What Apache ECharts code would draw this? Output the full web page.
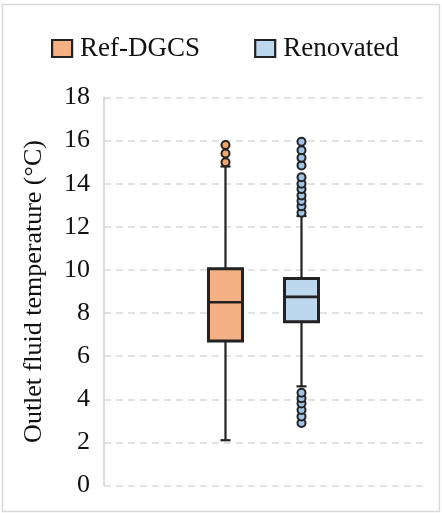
<!DOCTYPE html>
<html>
<head>
<meta charset="utf-8">
<script src="https://cdn.jsdelivr.net/npm/echarts@6/dist/echarts.min.js"></script>
<style>
  html, body { margin: 0; padding: 0; background: #fff; }
  #main { width: 442px; height: 513px; }
</style>
</head>
<body>
<div id="main"></div>
<script>
// categories and box stats [min, Q1, median, Q3, max]
const categories = ['Ref-DGCS', 'Renovated']
const refBox = [2.1, 6.7, 8.5, 10.05, 14.8]
const renBox = [4.6, 7.6, 8.75, 9.6, 12.5]
// outliers
const refOutliers = [15.0, 15.4, 15.8]
const renOutliers = [2.9, 3.2, 3.5, 3.8, 4.05, 4.3, 12.65, 12.95, 13.2, 13.45, 13.75, 14.0, 14.3, 14.85, 15.2, 15.55, 15.95]
const yMin = 0
const yMax = 18
const yStep = 2

const boxFill = ['#F4B183', '#BDD7EE']
const dotFill = ['#F4A46A', '#9DC3E6']
const edge = '#222222'
const serif = 'Liberation Serif'

const myChart = echarts.init(document.getElementById('main'))

// draws one box with whiskers and short caps
function renderBox (params, api) {
  const cat = api.value(0)
  const lo = api.coord([cat, api.value(1)])
  const q1 = api.coord([cat, api.value(2)])
  const med = api.coord([cat, api.value(3)])
  const q3 = api.coord([cat, api.value(4)])
  const hi = api.coord([cat, api.value(5)])
  const x = lo[0]
  const hw = 17
  const cap = 5
  const line = { stroke: edge, lineWidth: 2.2 }
  return {
    type: 'group',
    children: [
      { type: 'line', shape: { x1: x, y1: lo[1], x2: x, y2: q1[1] }, style: line },
      { type: 'line', shape: { x1: x, y1: q3[1], x2: x, y2: hi[1] }, style: line },
      { type: 'line', shape: { x1: x - cap, y1: lo[1], x2: x + cap, y2: lo[1] }, style: line },
      { type: 'line', shape: { x1: x - cap, y1: hi[1], x2: x + cap, y2: hi[1] }, style: line },
      {
        type: 'rect',
        shape: { x: x - hw, y: q3[1], width: hw * 2, height: q1[1] - q3[1] },
        style: { fill: boxFill[cat], stroke: edge, lineWidth: 3 }
      },
      { type: 'line', shape: { x1: x - hw, y1: med[1], x2: x + hw, y2: med[1] }, style: { stroke: edge, lineWidth: 2.6 } }
    ]
  }
}

function boxSeries (idx, stats) {
  return {
    name: categories[idx],
    type: 'custom',
    xAxisIndex: 1,
    yAxisIndex: 1,
    renderItem: renderBox,
    itemStyle: { color: boxFill[idx] },
    encode: { x: 0, y: [1, 2, 3, 4, 5] },
    data: [[idx].concat(stats)],
    z: 2
  }
}

function dotSeries (idx, values) {
  return {
    name: categories[idx],
    type: 'scatter',
    xAxisIndex: 1,
    yAxisIndex: 1,
    symbol: 'circle',
    symbolSize: 8,
    itemStyle: { color: dotFill[idx], borderColor: edge, borderWidth: 2, opacity: 1 },
    data: values.map(v => [idx, v]),
    z: 3
  }
}

const option = {
  animation: false,
  backgroundColor: '#fff',
  graphic: [
    {
      type: 'rect',
      shape: { x: 2.5, y: 4.5, width: 437, height: 507 },
      style: { fill: 'none', stroke: '#d9d9d9', lineWidth: 1.5 },
      silent: true
    }
  ],
  legend: {
    left: 46,
    top: 30,
    itemWidth: 20,
    itemHeight: 17,
    itemGap: 54,
    icon: 'rect',
    textStyle: { fontFamily: serif, fontSize: 27, color: '#111', padding: [0, 0, 0, 3] },
    data: categories.map((c, i) => ({
      name: c,
      itemStyle: { color: boxFill[i], borderColor: edge, borderWidth: 2.2 }
    }))
  },
  grid: [
    { left: 104, right: 14, top: 97.5, bottom: 27.5 },
    { left: 187.5, width: 152, top: 97.5, bottom: 27.5 }
  ],
  xAxis: [
    { gridIndex: 0, type: 'category', data: [''], show: false },
    {
      gridIndex: 1,
      type: 'category',
      data: categories,
      boundaryGap: true,
      axisLine: { show: false },
      axisTick: { show: false },
      axisLabel: { show: false },
      splitLine: { show: false }
    }
  ],
  yAxis: [
    {
      gridIndex: 0,
      type: 'value',
      min: yMin,
      max: yMax,
      interval: yStep,
      name: 'Outlet fluid temperature (°C)',
      nameLocation: 'middle',
      nameGap: 57,
      nameTextStyle: { fontFamily: serif, fontSize: 26, color: '#111' },
      axisLine: { show: true, lineStyle: { color: '#d0d0d0', width: 1.5 } },
      axisTick: { show: false },
      axisLabel: { fontFamily: serif, fontSize: 26, color: '#111', margin: 14 },
      splitLine: { show: true, lineStyle: { color: '#d9d9d9', width: 1.5, type: [7, 5] } }
    },
    { gridIndex: 1, type: 'value', min: yMin, max: yMax, show: false }
  ],
  series: [
    boxSeries(0, refBox),
    boxSeries(1, renBox),
    dotSeries(0, refOutliers),
    dotSeries(1, renOutliers)
  ]
}

myChart.setOption(option)
</script>
</body>
</html>
